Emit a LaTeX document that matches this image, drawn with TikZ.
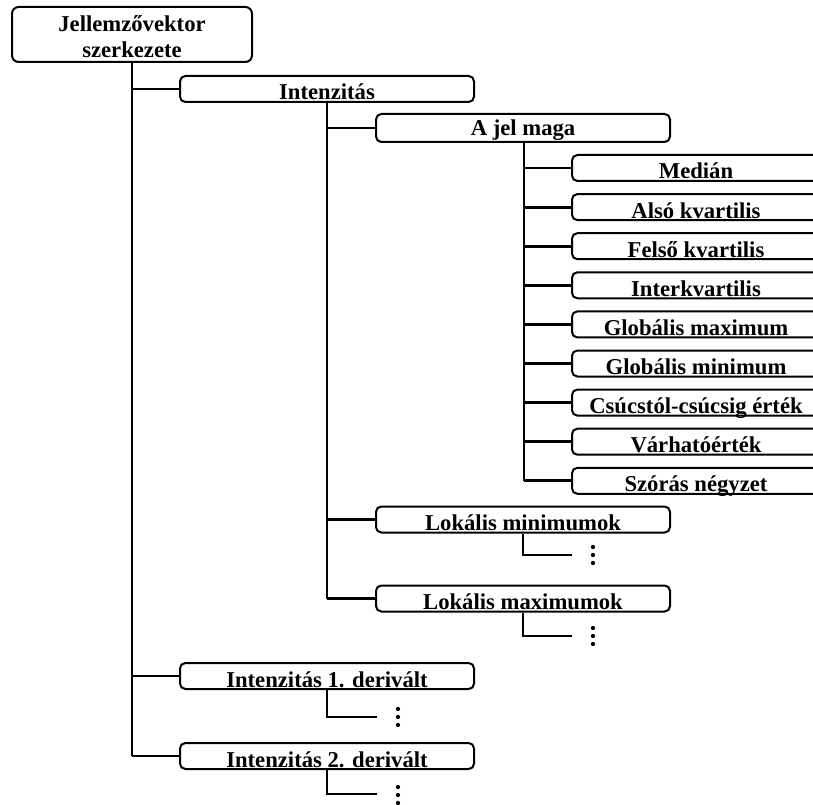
\documentclass[tikz,border=0pt]{standalone}
\usepackage{fontspec}
\setmainfont{Liberation Serif}
\begin{document}
\begin{tikzpicture}[x=0.75pt,y=-0.75pt,
  txt/.style={inner sep=0pt, font=\bfseries\fontsize{17}{20}\selectfont},
  box/.style={txt, draw, line width=1.5pt, rounded corners=4pt, minimum height=19.5pt, text height=18pt, text depth=1.5pt},
  mainbox/.style={box, minimum width=220.5pt},
  leafbox/.style={box, minimum width=186pt},
  conn/.style={line width=2.2pt},
  dotc/.style={fill=black}
]
\useasboundingbox (0,0) rectangle (813,805);
\clip (0,0) rectangle (813,805);

% root
\node[draw, line width=1.5pt, rounded corners=5pt, minimum width=180pt, minimum height=41.25pt, inner sep=0pt] (root) at (132,34.5) {};
\node[txt, anchor=base] (roott1) at (132,32) {Jellemzővektor};
\node[txt, anchor=base] (roott2) at (132,58) {szerkezete};

% level 1
\node[mainbox] (int) at (327,89) {Intenzitás};
\node[mainbox] (d1) at (327,676) {Intenzitás 1. derivált};
\node[mainbox] (d2) at (327,756) {Intenzitás 2. derivált};

% level 2
\node[mainbox, minimum height=21pt, text height=16.5pt, text depth=4.5pt] (jel) at (523,128) {A jel maga};
\node[mainbox] (lmin) at (523,519.5) {Lokális minimumok};
\node[mainbox] (lmax) at (523,598.5) {Lokális maximumok};

% leaves
\node[leafbox] (l0) at (696,168.0) {Medián};
\node[leafbox] (l1) at (696,207.1) {Alsó kvartilis};
\node[leafbox] (l2) at (696,246.2) {Felső kvartilis};
\node[leafbox] (l3) at (696,285.3) {Interkvartilis};
\node[leafbox] (l4) at (696,324.4) {Globális maximum};
\node[leafbox] (l5) at (696,363.5) {Globális minimum};
\node[leafbox] (l6) at (696,402.6) {Csúcstól-csúcsig érték};
\node[leafbox] (l7) at (696,441.7) {Várhatóérték};
\node[leafbox] (l8) at (696,480.8) {Szórás négyzet};

% trunk
\draw[conn] (root.south) -- (root.south |- d2.west);
\foreach \n in {int,d1,d2} \draw[conn] (root.south |- \n.west) -- (\n.west);

% Intenzitás branch
\draw[conn] (int.south) -- (int.south |- lmax.west);
\foreach \n in {jel,lmin,lmax} \draw[conn] (int.south |- \n.west) -- (\n.west);

% A jel maga branch
\coordinate (jx) at ([xshift=0.75pt]jel.south);
\draw[conn] (jx) -- (jx |- l8.west);
\foreach \n in {l0,l1,l2,l3,l4,l5,l6,l7,l8} \draw[conn] (jx |- \n.west) -- (\n.west);

% continuation stubs
\coordinate (emin) at (572,555);
\coordinate (emax) at (572,636);
\coordinate (ed1) at (377,717);
\coordinate (ed2) at (377,794);
\draw[conn] (lmin.south) |- (emin);
\draw[conn] (lmax.south) |- (emax);
\draw[conn] (d1.south) |- (ed1);
\draw[conn] (d2.south) |- (ed2);

% vertical ellipses
\foreach \x/\y in {593/555, 593/636, 398/717, 398/795}
  \foreach \dy in {-8,0,8} \fill[dotc] (\x,\y+\dy) circle (1.6pt);
\end{tikzpicture}
\end{document}
